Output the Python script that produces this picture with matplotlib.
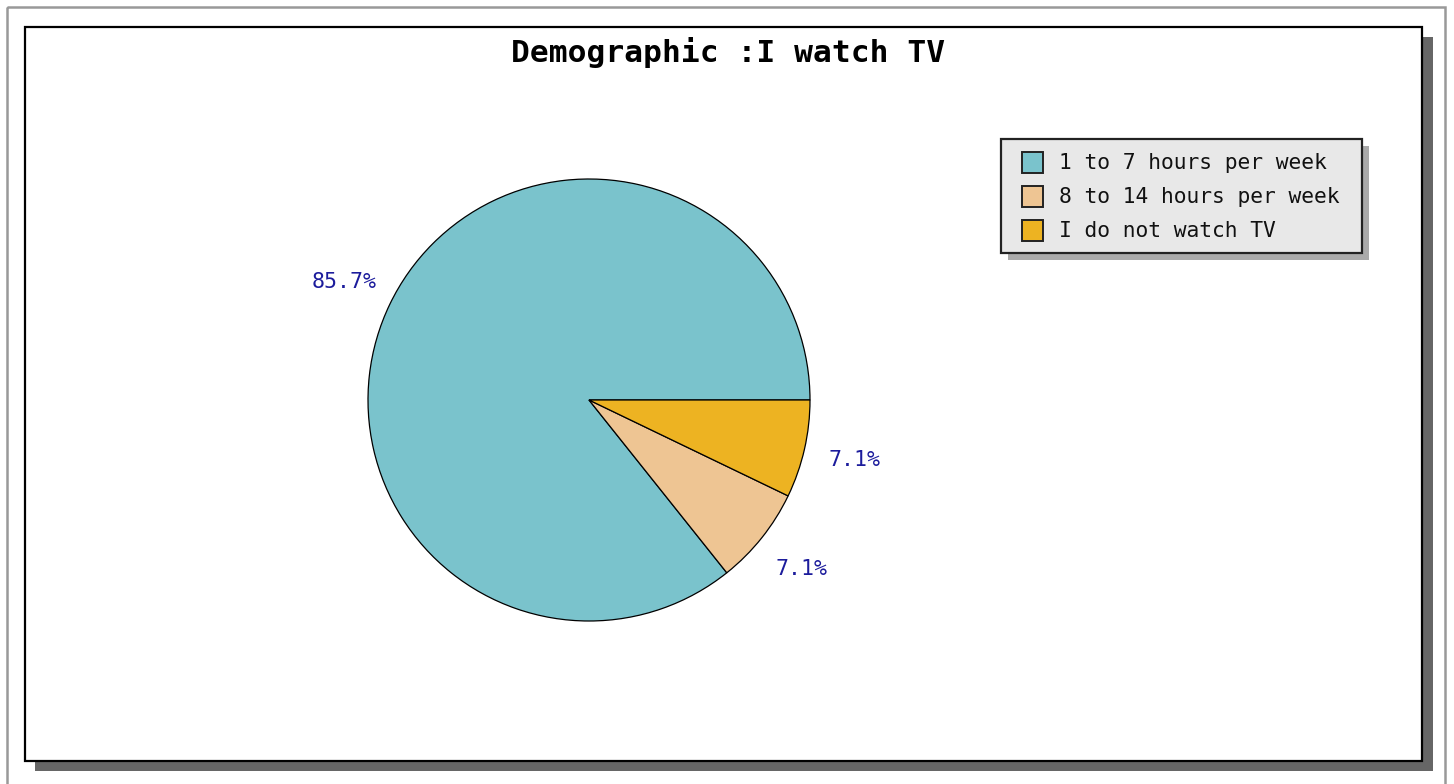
import matplotlib.pyplot as plt
from matplotlib.patches import Rectangle

# data (14 respondents)
labels = ['1 to 7 hours per week', '8 to 14 hours per week', 'I do not watch TV']
counts = [12, 1, 1]
colors = ['#7ac3cc', '#eec593', '#edb322']
title = 'Demographic :I watch TV'

W, H = 1454, 784
fig = plt.figure(figsize=(W / 100, H / 100), dpi=100)
mono = 'DejaVu Sans Mono'

# background frame in pixel coords
bg = fig.add_axes([0, 0, 1, 1])
bg.set_xlim(0, W)
bg.set_ylim(H, 0)
bg.axis('off')
bg.add_patch(Rectangle((7, 7), 1438, 800, fill=False, edgecolor='#999999', lw=1.8))
bg.add_patch(Rectangle((35, 37), 1398, 734, facecolor='#666666', edgecolor='none'))
bg.add_patch(Rectangle((25, 27), 1397, 734, facecolor='white', edgecolor='black', lw=1.6))
bg.text(728, 52, title, ha='center', va='center', fontsize=22.5, fontweight='bold', family=mono)

# pie
cx, cy, r = 589, 400, 221
ax = fig.add_axes([(cx - r) / W, 1 - (cy + r) / H, 2 * r / W, 2 * r / H])
wedges, texts, autotexts = ax.pie(
    counts, colors=colors, startangle=0, counterclock=True, radius=1,
    autopct='%.1f%%', pctdistance=1.23,
    wedgeprops=dict(edgecolor='black', linewidth=0.9),
    textprops=dict(color='#1c1c9c', fontsize=15.5, family=mono))
ax.set_xlim(-1, 1)
ax.set_ylim(-1, 1)
ax.set_aspect('equal')

# legend box with shadow
lx0, ly0, lx1, ly1 = 1001, 139, 1362, 253
bg.add_patch(Rectangle((lx0 + 7, ly0 + 7), lx1 - lx0, ly1 - ly0, facecolor='#aaaaaa', edgecolor='none'))
bg.add_patch(Rectangle((lx0, ly0), lx1 - lx0, ly1 - ly0, facecolor='#e8e8e8', edgecolor='#222222', lw=1.6))
for i, (lab, col) in enumerate(zip(labels, colors)):
    yc = 163 + i * 34
    bg.add_patch(Rectangle((1022, yc - 11), 21, 21, facecolor=col, edgecolor='#222222', lw=1.4))
    bg.text(1059, yc, lab, ha='left', va='center', fontsize=15.3, family=mono, color='#111111')

fig.savefig('out.png', dpi=100)
